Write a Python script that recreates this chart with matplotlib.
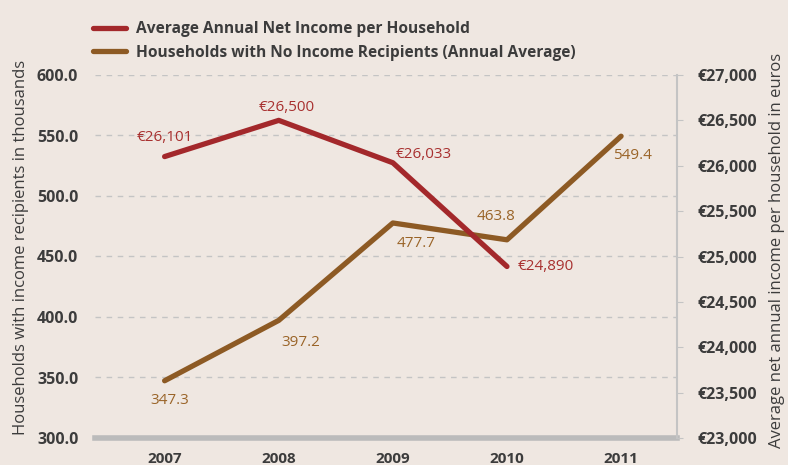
import matplotlib
matplotlib.use("Agg")
import matplotlib.pyplot as plt
from matplotlib.ticker import FuncFormatter, MultipleLocator

years = ["2007", "2008", "2009", "2010", "2011"]
households = [347.3, 397.2, 477.7, 463.8, 549.4]
income = [26101, 26500, 26033, 24890]
income_labels = ["€26,101", "€26,500", "€26,033", "€24,890"]
household_labels = ["347.3", "397.2", "477.7", "463.8", "549.4"]

BG = "#efe7e1"
RED = "#a3282b"
BROWN = "#8d5a24"
RED_TXT = "#a8302f"
BROWN_TXT = "#9a6428"
DARK = "#3c3c3c"
GRID = "#c4c4c4"

plt.rcParams['font.family'] = ['Open Sans', 'DejaVu Sans']

fig = plt.figure(figsize=(7.88, 4.65), dpi=100, facecolor=BG)
ax = fig.add_axes([95/788, 1-438/465, (677-95)/788, (438-75)/465])
ax.set_facecolor(BG)
ax2 = ax.twinx()

x = list(range(len(years)))
ax.set_xlim(-0.61, 4.49)
ax.set_ylim(300, 600)
ax2.set_ylim(23000, 27000)

ax.yaxis.set_major_locator(MultipleLocator(50))
ax.yaxis.set_major_formatter(FuncFormatter(lambda v, p: f"{v:.1f}"))
ax2.yaxis.set_major_locator(MultipleLocator(500))
ax2.yaxis.set_major_formatter(FuncFormatter(lambda v, p: f"€{int(v):,}"))

for yv in [350, 400, 450, 500, 550, 600]:
    ax.axhline(yv, color=GRID, lw=1, ls=(0, (4, 4)), zorder=0)

hl, = ax.plot(x, households, color=BROWN, lw=3.8, solid_capstyle='round', zorder=3)
il, = ax2.plot(x[:len(income)], income, color=RED, lw=3.8, solid_capstyle='round', zorder=3)

for s in ['top', 'left']:
    ax.spines[s].set_visible(False)
    ax2.spines[s].set_visible(False)
ax.spines['right'].set_visible(False)
ax2.spines['right'].set_color(GRID)
ax2.spines['right'].set_linewidth(1.5)
ax2.spines['bottom'].set_visible(False)
ax.spines['bottom'].set_color("#bbbbbb")
ax.spines['bottom'].set_linewidth(4)

ax.tick_params(axis='y', length=0, pad=12, labelsize=11.5, labelcolor=DARK)
ax.tick_params(axis='x', length=0, pad=10, labelsize=11, labelcolor=DARK)
ax2.tick_params(axis='y', length=4, color=GRID, pad=11, labelsize=11.5, labelcolor=DARK)
for lab in ax.get_yticklabels() + ax.get_xticklabels() + ax2.get_yticklabels():
    lab.set_fontweight('bold')
ax.set_xticks(x)
ax.set_xticklabels(years)

fig.text(21/788, 1-247/465, "Households with income recipients in thousands",
         rotation=90, ha='center', va='center', fontsize=12, color=DARK)
fig.text(777/788, 1-250/465, "Average net annual income per household in euros",
         rotation=90, ha='center', va='center', fontsize=12, color=DARK)

# income labels
inc_off = [(0, 14, 'center'), (6, 9, 'center'), (2, 6, 'left'), (8, 0, 'left')]
for i, (v, t) in enumerate(zip(income, income_labels)):
    dx, dy, ha = inc_off[i]
    ax2.annotate(t, (x[i], v), xytext=(dx, dy), textcoords='offset points',
                 ha=ha, va='center', color=RED_TXT, fontsize=11, zorder=5)

hh_off = [(4, -14, 'center'), (16, -16, 'center'), (17, -15, 'center'), (-8, 17, 'center'), (8, -14, 'center')]
for i, (v, t) in enumerate(zip(households, household_labels)):
    dx, dy, ha = hh_off[i]
    ax.annotate(t, (x[i], v), xytext=(dx, dy), textcoords='offset points',
                ha=ha, va='center', color=BROWN_TXT, fontsize=11, zorder=5)

leg = fig.legend([il, hl], ["Average Annual Net Income per Household",
                            "Households with No Income Recipients (Annual Average)"],
                 loc='upper left', bbox_to_anchor=(79/788, 1-7/465), frameon=False,
                 handlelength=2.1, handletextpad=0.65, labelspacing=0.5,
                 prop={'size': 11.2, 'weight': 'bold'})
for t in leg.get_texts():
    t.set_color(DARK)

fig.savefig("out.png", dpi=100, facecolor=BG)
